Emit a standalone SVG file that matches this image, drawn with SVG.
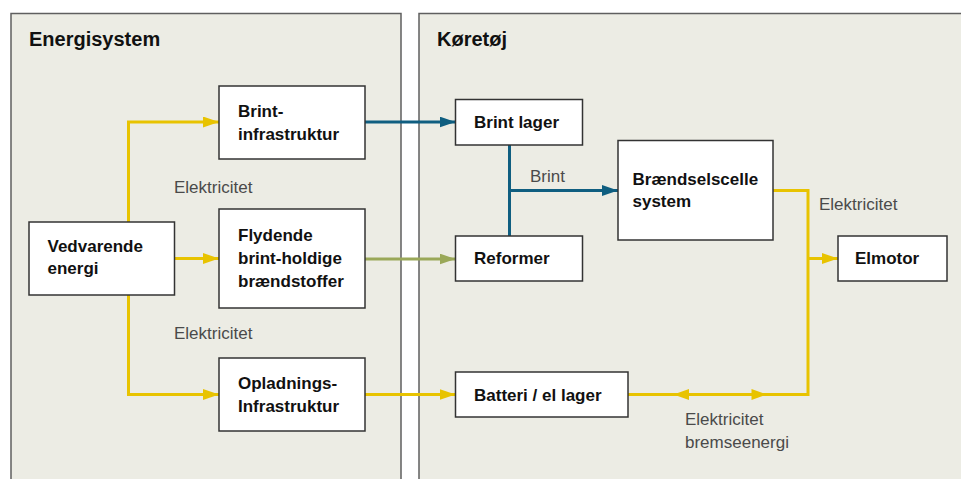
<svg xmlns="http://www.w3.org/2000/svg" width="961" height="479" viewBox="0 0 961 479">
<style>
.panel{fill:#ecece4;stroke:#5f5f5f;stroke-width:1.5}
.box{fill:#ffffff;stroke:#333333;stroke-width:1.5}
.t{font-family:"Liberation Sans",Arial,sans-serif;font-weight:bold;font-size:17px;fill:#111111}
.title{font-family:"Liberation Sans",Arial,sans-serif;font-weight:bold;font-size:20px;fill:#111111}
.lbl{font-family:"Liberation Sans",Arial,sans-serif;font-size:17px;fill:#4a4a4a}
.y{fill:none;stroke:#e8c300;stroke-width:3}
.b{fill:none;stroke:#0f5e80;stroke-width:3}
.g{fill:none;stroke:#9aa858;stroke-width:3}
</style>
<defs>
<marker id="ay" markerUnits="userSpaceOnUse" markerWidth="16" markerHeight="12" refX="16" refY="5.5" orient="auto"><path d="M0,0 L16,5.5 L0,11 z" fill="#e8c300"/></marker>
<marker id="ab" markerUnits="userSpaceOnUse" markerWidth="16" markerHeight="12" refX="16" refY="5.5" orient="auto"><path d="M0,0 L16,5.5 L0,11 z" fill="#0f5e80"/></marker>
<marker id="ag" markerUnits="userSpaceOnUse" markerWidth="16" markerHeight="12" refX="16" refY="5.5" orient="auto"><path d="M0,0 L16,5.5 L0,11 z" fill="#9aa858"/></marker>
</defs>
<rect width="961" height="479" fill="#ffffff"/>
<g id="panel-energisystem">
<rect class="panel" x="11" y="13.5" width="390" height="480"/>
<text class="title" x="29" y="46">Energisystem</text>
</g>
<g id="panel-koeretoej">
<rect class="panel" x="419" y="13.5" width="560" height="480"/>
<text class="title" x="437" y="46">Køretøj</text>
</g>
<g id="connectors">
<polyline class="y" points="128.5,222 128.5,122 219,122" marker-end="url(#ay)"/>
<line class="y" x1="174.5" y1="258.5" x2="219" y2="258.5" marker-end="url(#ay)"/>
<polyline class="y" points="128.5,295 128.5,394.5 219,394.5" marker-end="url(#ay)"/>
<line class="b" x1="365" y1="122" x2="455.5" y2="122" marker-end="url(#ab)"/>
<line class="g" x1="365" y1="259" x2="455.5" y2="259" marker-end="url(#ag)"/>
<line class="y" x1="365" y1="394.5" x2="455.5" y2="394.5" marker-end="url(#ay)"/>
<line class="b" x1="509.5" y1="145" x2="509.5" y2="236"/>
<line class="b" x1="509.5" y1="190.5" x2="618" y2="190.5" marker-end="url(#ab)"/>
<polyline class="y" points="773,190.5 808,190.5 808,394.5 628,394.5"/>
<line class="y" x1="808" y1="258.5" x2="838" y2="258.5" marker-end="url(#ay)"/>
<path d="M673.5,394.5 L689,389 L689,400 z" fill="#e8c300"/>
<path d="M767,394.5 L751.5,389 L751.5,400 z" fill="#e8c300"/>
<text class="lbl" x="174" y="193">Elektricitet</text>
<text class="lbl" x="174" y="339">Elektricitet</text>
<text class="lbl" x="530" y="182">Brint</text>
<text class="lbl" x="819" y="210">Elektricitet</text>
<text class="lbl" x="685" y="425">Elektricitet</text>
<text class="lbl" x="685" y="448">bremseenergi</text>
</g>
<g id="node-vedvarende">
<rect class="box" x="29" y="222" width="145.5" height="73"/>
<text class="t" x="47.5" y="251.5">Vedvarende</text>
<text class="t" x="47.5" y="274">energi</text>
</g>
<g id="node-brintinfra">
<rect class="box" x="219" y="86" width="146" height="73"/>
<text class="t" x="238" y="117">Brint-</text>
<text class="t" x="238" y="139.5">infrastruktur</text>
</g>
<g id="node-flydende">
<rect class="box" x="219" y="209" width="146" height="99"/>
<text class="t" x="238" y="240.5">Flydende</text>
<text class="t" x="238" y="263.5">brint-holdige</text>
<text class="t" x="238" y="286.5">brændstoffer</text>
</g>
<g id="node-opladning">
<rect class="box" x="219" y="358" width="146" height="73"/>
<text class="t" x="238" y="389">Opladnings-</text>
<text class="t" x="238" y="411.5">Infrastruktur</text>
</g>
<g id="node-brintlager">
<rect class="box" x="455.5" y="99.5" width="127" height="45.5"/>
<text class="t" x="474" y="128">Brint lager</text>
</g>
<g id="node-reformer">
<rect class="box" x="455.5" y="236" width="127" height="45"/>
<text class="t" x="474" y="263.5">Reformer</text>
</g>
<g id="node-batteri">
<rect class="box" x="455.5" y="372" width="172.5" height="45"/>
<text class="t" x="474" y="401">Batteri / el lager</text>
</g>
<g id="node-braendselscelle">
<rect class="box" x="618" y="140.5" width="155" height="99.5"/>
<text class="t" x="632.5" y="185">Brændselscelle</text>
<text class="t" x="632.5" y="207">system</text>
</g>
<g id="node-elmotor">
<rect class="box" x="838" y="236" width="109" height="45"/>
<text class="t" x="855" y="263.5">Elmotor</text>
</g>
</svg>
